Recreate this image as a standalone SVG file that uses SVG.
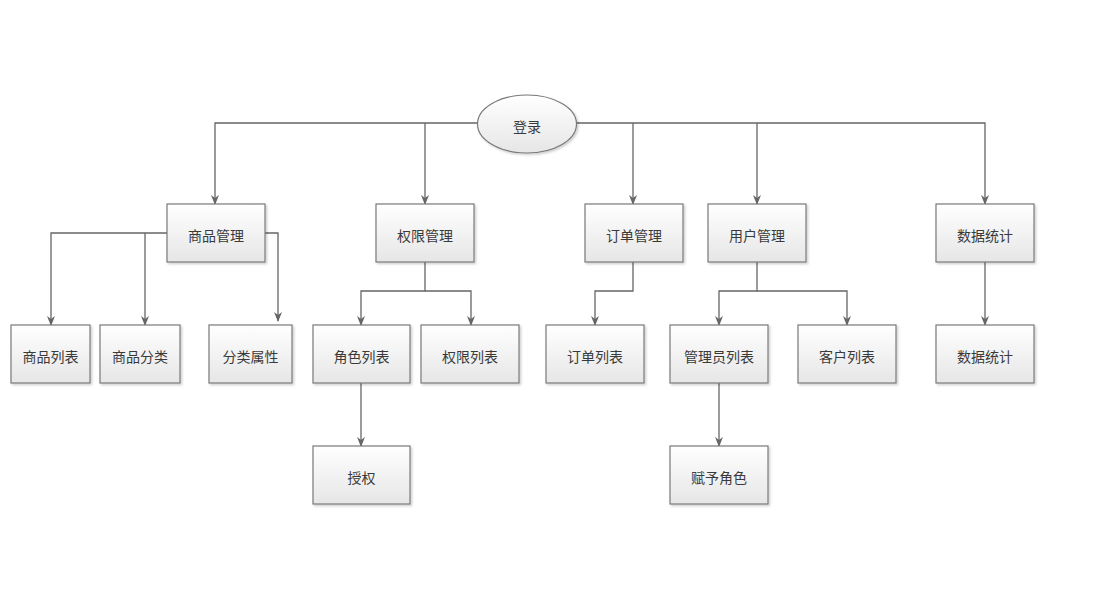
<svg xmlns="http://www.w3.org/2000/svg" width="1110" height="600" viewBox="0 0 1110 600">
<style>
.box{fill:url(#g);stroke:#7a7a7a;stroke-width:1.2}
.lbl{font-family:"Noto Sans CJK SC","Noto Sans",sans-serif;font-size:14px;fill:#3a3a3a;text-anchor:middle;dominant-baseline:central}
.c{fill:none;stroke:#666;stroke-width:1.3}
</style>
<defs>
<linearGradient id="g" x1="0" y1="0" x2="0" y2="1"><stop offset="0" stop-color="#ffffff"/><stop offset="1" stop-color="#e6e6e6"/></linearGradient>
<marker id="a" markerWidth="10" markerHeight="10" refX="9" refY="5" orient="auto" markerUnits="userSpaceOnUse"><path d="M0,1 L10,5 L0,9 L3,5 Z" fill="#666"/></marker>
<filter id="s" x="-10%" y="-10%" width="130%" height="130%"><feDropShadow dx="1.5" dy="1.5" stdDeviation="0.8" flood-color="#000" flood-opacity="0.2"/></filter>
</defs>
<rect width="1110" height="600" fill="#fff"/>
<g id="connectors" class="c">
<path d="M478,123 H215 V204" marker-end="url(#a)"/>
<path d="M425,123 V204" marker-end="url(#a)"/>
<path d="M577,123 H985 V204" marker-end="url(#a)"/>
<path d="M633,123 V204" marker-end="url(#a)"/>
<path d="M757,123 V204" marker-end="url(#a)"/>
<path d="M167,233 H51 V325" marker-end="url(#a)"/>
<path d="M145,233 V325" marker-end="url(#a)"/>
<path d="M265,233 H278 V321" marker-end="url(#a)"/>
<path d="M425,262 V291 H361 V325" marker-end="url(#a)"/>
<path d="M425,291 H471 V325" marker-end="url(#a)"/>
<path d="M633,262 V291 H595 V325" marker-end="url(#a)"/>
<path d="M757,262 V291 H719 V325" marker-end="url(#a)"/>
<path d="M757,291 H847 V325" marker-end="url(#a)"/>
<path d="M985,262 V325" marker-end="url(#a)"/>
<path d="M361,383 V446" marker-end="url(#a)"/>
<path d="M719,383 V446" marker-end="url(#a)"/>
</g>
<g id="login"><ellipse cx="527" cy="124" rx="49.5" ry="29" class="box" filter="url(#s)"/><text x="527" y="125.5" class="lbl">登录</text></g>
<g id="goods"><rect x="167" y="204" width="98" height="58" class="box" filter="url(#s)"/><text x="216" y="234.5" class="lbl">商品管理</text></g>
<g id="perm"><rect x="376" y="204" width="98" height="58" class="box" filter="url(#s)"/><text x="425" y="234.5" class="lbl">权限管理</text></g>
<g id="order"><rect x="585" y="204" width="98" height="58" class="box" filter="url(#s)"/><text x="634" y="234.5" class="lbl">订单管理</text></g>
<g id="user"><rect x="708" y="204" width="98" height="58" class="box" filter="url(#s)"/><text x="757" y="234.5" class="lbl">用户管理</text></g>
<g id="stat"><rect x="936" y="204" width="98" height="58" class="box" filter="url(#s)"/><text x="985" y="234.5" class="lbl">数据统计</text></g>
<g id="goodsList"><rect x="11" y="325" width="79" height="58" class="box" filter="url(#s)"/><text x="50.5" y="355.5" class="lbl">商品列表</text></g>
<g id="goodsCat"><rect x="100" y="325" width="80" height="58" class="box" filter="url(#s)"/><text x="140" y="355.5" class="lbl">商品分类</text></g>
<g id="catAttr"><rect x="209" y="325" width="83" height="58" class="box" filter="url(#s)"/><text x="250.5" y="355.5" class="lbl">分类属性</text></g>
<g id="roleList"><rect x="313" y="325" width="97" height="58" class="box" filter="url(#s)"/><text x="361.5" y="355.5" class="lbl">角色列表</text></g>
<g id="permList"><rect x="421" y="325" width="98" height="58" class="box" filter="url(#s)"/><text x="470" y="355.5" class="lbl">权限列表</text></g>
<g id="orderList"><rect x="546" y="325" width="98" height="58" class="box" filter="url(#s)"/><text x="595" y="355.5" class="lbl">订单列表</text></g>
<g id="adminList"><rect x="670" y="325" width="98" height="58" class="box" filter="url(#s)"/><text x="719" y="355.5" class="lbl">管理员列表</text></g>
<g id="custList"><rect x="798" y="325" width="98" height="58" class="box" filter="url(#s)"/><text x="847" y="355.5" class="lbl">客户列表</text></g>
<g id="stat2"><rect x="936" y="325" width="98" height="58" class="box" filter="url(#s)"/><text x="985" y="355.5" class="lbl">数据统计</text></g>
<g id="grant"><rect x="313" y="446" width="97" height="58" class="box" filter="url(#s)"/><text x="361.5" y="476.5" class="lbl">授权</text></g>
<g id="assignRole"><rect x="670" y="446" width="98" height="58" class="box" filter="url(#s)"/><text x="719" y="476.5" class="lbl">赋予角色</text></g>
</svg>
